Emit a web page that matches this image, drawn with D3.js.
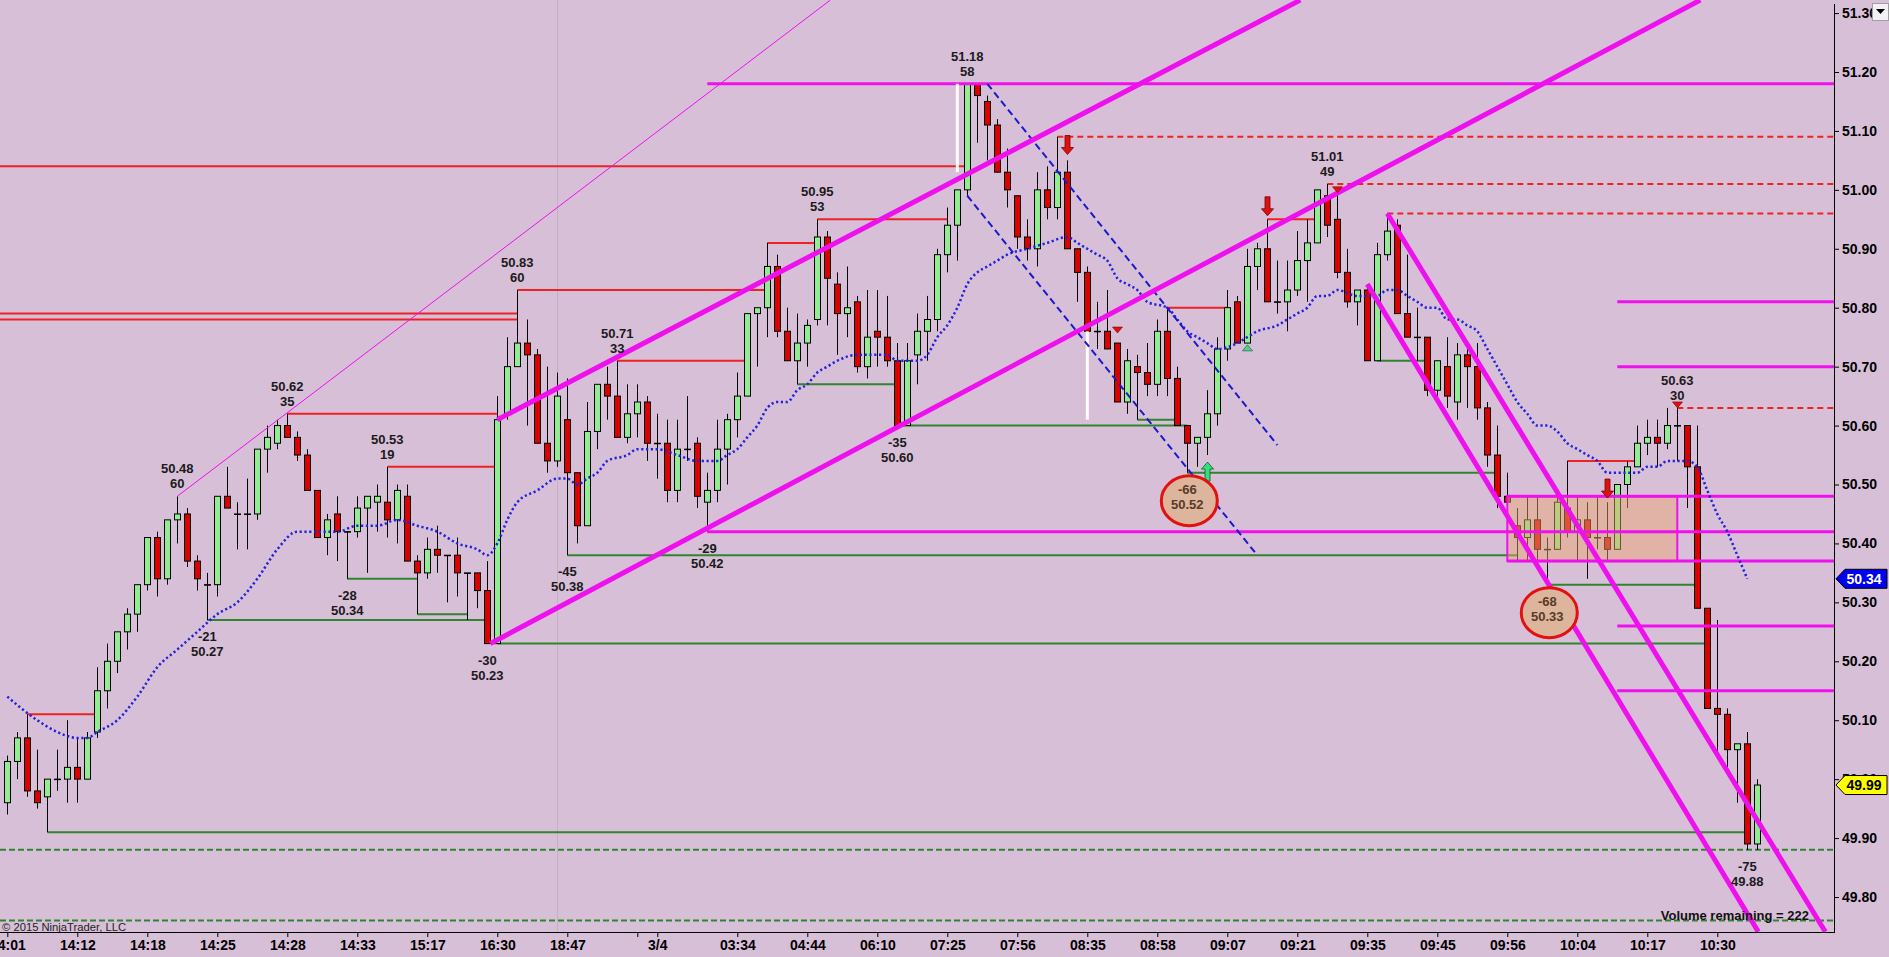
<!DOCTYPE html>
<html>
<head>
<meta charset="utf-8">
<script src="https://cdn.jsdelivr.net/npm/d3@7/dist/d3.min.js"></script>
<style>
    html, body { margin: 0; padding: 0; background: #d8bfd8; }
    svg { display: block; font-family: "Liberation Sans", Arial, sans-serif; }
</style>
</head>
<body>
<svg id="chart" width="1889" height="957"></svg>
<script>
// OHLC per bar (bar index = position in the arrays)
const opens = [
    49.96,50.03,50.07,49.98,49.97,50.00,50.00,50.02,50.00,50.08,
    50.15,50.20,50.25,50.28,50.33,50.41,50.34,50.44,50.45,50.37,
    50.33,50.33,50.48,50.45,50.45,50.45,50.56,50.57,50.60,50.58,
    50.55,50.49,50.41,50.45,50.42,50.42,50.46,50.47,50.47,50.44,
    50.48,50.37,50.35,50.39,50.38,50.38,50.35,50.35,50.32,50.23,
    50.62,50.70,50.74,50.72,50.57,50.54,50.61,50.52,50.43,50.59,
    50.67,50.65,50.58,50.62,50.64,50.57,50.57,50.49,50.56,50.57,
    50.47,50.49,50.56,50.61,50.65,50.79,50.80,50.87,50.76,50.71,
    50.74,50.78,50.92,50.84,50.79,50.81,50.70,50.76,50.75,50.71,
    50.60,50.72,50.76,50.78,50.89,50.94,51.00,51.18,51.15,51.11,
    51.03,50.99,50.92,50.90,51.00,50.97,51.03,50.90,50.86,50.76,
    50.76,50.74,50.64,50.70,50.69,50.67,50.76,50.68,50.60,50.57,
    50.58,50.62,50.73,50.81,50.74,50.87,50.90,50.81,50.81,50.83,
    50.88,50.91,50.99,50.95,50.86,50.81,50.83,50.71,50.89,50.94,
    50.79,50.75,50.75,50.66,50.70,50.64,50.72,50.70,50.63,50.55,
    50.48,50.43,50.41,50.44,50.39,50.39,50.46,50.42,50.44,50.41,
    50.41,50.39,50.50,50.53,50.57,50.58,50.57,50.60,50.60,50.53,
    50.29,50.12,50.11,50.05,50.06,49.89
];
const highs = [
    50.04,50.08,50.11,50.05,50.00,50.05,50.10,50.07,50.08,50.19,
    50.23,50.25,50.29,50.33,50.41,50.42,50.44,50.48,50.46,50.38,
    50.35,50.48,50.53,50.47,50.51,50.56,50.60,50.61,50.62,50.59,
    50.56,50.49,50.45,50.48,50.42,50.48,50.48,50.50,50.53,50.50,
    50.50,50.38,50.41,50.43,50.38,50.41,50.35,50.35,50.37,50.65,
    50.75,50.83,50.78,50.73,50.70,50.69,50.68,50.52,50.64,50.67,
    50.70,50.71,50.67,50.67,50.65,50.62,50.61,50.61,50.65,50.58,
    50.52,50.61,50.62,50.69,50.79,50.80,50.91,50.89,50.80,50.79,
    50.78,50.95,50.93,50.86,50.87,50.82,50.83,50.83,50.82,50.74,
    50.74,50.79,50.82,50.90,50.97,51.00,51.18,51.18,51.16,51.12,
    51.07,50.99,50.95,51.03,51.04,51.09,51.05,50.90,50.87,50.81,
    50.83,50.74,50.73,50.72,50.74,50.78,50.80,50.70,50.60,50.58,
    50.66,50.75,50.83,50.82,50.90,50.91,50.95,50.88,50.88,50.93,
    50.95,51.00,51.01,51.00,50.90,50.83,50.84,50.91,50.96,50.95,
    50.89,50.80,50.75,50.71,50.75,50.74,50.74,50.74,50.64,50.60,
    50.52,50.46,50.48,50.48,50.41,50.48,50.54,50.48,50.47,50.48,
    50.47,50.50,50.54,50.60,50.61,50.61,50.63,50.63,50.60,50.60,
    50.29,50.27,50.12,50.06,50.08,50.00
];
const lows = [
    49.94,50.00,49.97,49.95,49.91,49.98,49.96,49.96,50.00,50.07,
    50.12,50.18,50.22,50.25,50.32,50.31,50.33,50.40,50.36,50.32,
    50.27,50.31,50.46,50.39,50.39,50.44,50.52,50.56,50.58,50.54,
    50.49,50.41,50.38,50.37,50.34,50.41,50.35,50.42,50.41,50.40,
    50.37,50.28,50.34,50.35,50.30,50.31,50.27,50.29,50.23,50.23,
    50.61,50.70,50.60,50.57,50.52,50.53,50.38,50.40,50.43,50.56,
    50.61,50.58,50.57,50.58,50.54,50.51,50.47,50.47,50.54,50.46,
    50.42,50.47,50.50,50.58,50.65,50.70,50.75,50.75,50.71,50.67,
    50.70,50.77,50.77,50.72,50.75,50.69,50.68,50.70,50.70,50.60,
    50.60,50.67,50.71,50.76,50.86,50.88,50.99,51.08,51.05,51.03,
    50.97,50.90,50.88,50.87,50.95,50.95,50.90,50.81,50.76,50.73,
    50.73,50.64,50.62,50.61,50.65,50.65,50.65,50.60,50.52,50.53,
    50.55,50.60,50.71,50.74,50.74,50.83,50.81,50.79,50.76,50.82,
    50.81,50.91,50.92,50.85,50.80,50.77,50.71,50.71,50.88,50.79,
    50.75,50.71,50.65,50.65,50.63,50.61,50.63,50.61,50.53,50.46,
    50.43,50.37,50.37,50.37,50.33,50.39,50.41,50.37,50.34,50.39,
    50.37,50.39,50.46,50.53,50.55,50.53,50.56,50.54,50.46,50.29,
    50.12,50.04,50.02,49.96,49.88,49.88
];
const closes = [
    50.03,50.07,49.98,49.96,50.00,50.00,50.02,50.00,50.07,50.15,
    50.20,50.25,50.28,50.33,50.41,50.34,50.44,50.45,50.37,50.34,
    50.33,50.48,50.46,50.45,50.45,50.56,50.58,50.60,50.58,50.55,
    50.49,50.41,50.44,50.42,50.42,50.46,50.48,50.48,50.44,50.49,
    50.37,50.35,50.39,50.38,50.38,50.35,50.35,50.32,50.23,50.61,
    50.70,50.74,50.72,50.57,50.54,50.65,50.52,50.43,50.59,50.67,
    50.65,50.58,50.62,50.64,50.57,50.57,50.49,50.56,50.56,50.48,
    50.49,50.56,50.61,50.65,50.79,50.80,50.87,50.76,50.71,50.74,
    50.77,50.92,50.85,50.79,50.80,50.70,50.75,50.75,50.71,50.60,
    50.71,50.76,50.78,50.89,50.94,51.00,51.18,51.16,51.11,51.03,
    51.00,50.92,50.90,51.00,50.97,51.03,50.90,50.86,50.76,50.76,
    50.73,50.64,50.71,50.69,50.67,50.76,50.68,50.60,50.57,50.58,
    50.62,50.73,50.80,50.74,50.87,50.90,50.81,50.81,50.83,50.88,
    50.91,51.00,50.94,50.86,50.81,50.83,50.71,50.89,50.93,50.79,
    50.75,50.75,50.66,50.71,50.65,50.72,50.70,50.63,50.55,50.48,
    50.47,50.41,50.44,50.39,50.39,50.47,50.42,50.44,50.41,50.41,
    50.39,50.50,50.53,50.57,50.58,50.57,50.60,50.60,50.53,50.29,
    50.12,50.11,50.05,50.06,49.89,49.99
];

// moving average, read at these bars
const maIdx = [0,3,5,7,8,9,11,13,15,17,19,21,23,25,27,29,31,33,35,37,39,41,43,45,47,48,49,50,51,53,55,56,57,58,59,
    60,62,63,65,67,69,70,71,72,73,74,75,76,77,78,79,80,81,82,83,85,87,88,89,90,91,92,93,94,95,96,97,98,99,
    100,102,104,106,107,108,109,110,111,112,113,114,116,117,118,119,120,121,123,124,125,127,128,129,130,131,132,133,
    135,137,138,139,140,141,142,143,144,145,146,147,148,149,150,151,152,153,154,155,156,157,158,159,160,161,162,163,
    164,165,166,167,168,169,170,171,172,173,174];
const maVal = [50.14,50.10,50.08,50.07,50.07,50.08,50.10,50.14,50.19,50.22,50.25,50.28,50.30,50.34,50.39,50.42,50.42,50.42,50.43,50.43,50.44,50.43,50.42,50.40,50.39,50.38,50.40,50.44,50.47,50.49,50.51,50.51,50.50,50.51,50.52,
    50.54,50.55,50.56,50.56,50.55,50.54,50.54,50.54,50.55,50.56,50.58,50.60,50.63,50.64,50.64,50.66,50.67,50.69,50.70,50.71,50.72,50.72,50.72,50.71,50.71,50.71,50.72,50.75,50.77,50.80,50.84,50.86,50.87,50.88,
    50.89,50.90,50.91,50.92,50.91,50.90,50.89,50.88,50.85,50.84,50.83,50.81,50.80,50.78,50.76,50.75,50.74,50.73,50.74,50.75,50.76,50.77,50.78,50.79,50.80,50.82,50.82,50.83,
    50.82,50.82,50.83,50.83,50.82,50.81,50.80,50.80,50.78,50.78,50.77,50.76,50.73,50.70,50.67,50.64,50.62,50.60,50.60,50.59,50.57,50.56,50.55,50.54,50.52,50.52,50.52,50.52,
    50.53,50.53,50.54,50.54,50.54,50.53,50.49,50.45,50.42,50.38,50.34];

// swing levels: [fromBar, toBar, price]
const redLevels = [[2,9,50.11],[28,49,50.62],[38,49,50.53],[-1,51,50.79],[-1,51,50.78],[-1,96,51.04],
    [51,76,50.83],[61,74,50.71],[76,81,50.91],[81,94,50.95],[116,122,50.80],[126,131,50.95],[156,163,50.54]];
const redOpenLevels = [[105,51.09],[132,51.01],[138,50.96],[167,50.63]];
const greenLevels = [[4,174,49.91],[20,48,50.27],[34,41,50.34],[41,46,50.28],[49,170,50.23],[56,151,50.38],
    [79,89,50.67],[89,118,50.60],[113,117,50.61],[118,149,50.52],[137,142,50.71],[154,169,50.33]];
const greenDashed = [49.88, 49.76];

// drawn tools
const magentaOpen = [[70,51.18],[70,50.42],[150,50.48],[150,50.37],[161,50.81],[161,50.70],[161,50.26],[161,50.15]];
const zoneBox = [150, 167, 50.37, 50.48];
const channelLines = [
    [[49,50.61],[129.3,51.322]],
    [[48.3,50.23],[169.3,51.322]],
    [[138,50.96],[181.8,49.741]],
    [[136,50.84],[175.1,49.741]]
];
const thinLine = [[17,50.48],[82.3,51.322]];
const regLines = [[[98,51.18],[127,50.567]], [[96,50.99],[125,50.38]]];
const whiteBars = [[95,51.18,51.03],[108,50.76,50.61]];

// signals
const downArrows = [[106,51.06],[126,50.956],[160,50.477]];
const upArrows = [[120,50.538]];
const downTriangles = [[111,50.757],[133,50.995],[167,50.63]];
const upTriangles = [[124,50.737]];

// swing labels: [bar, price, line1, line2]
const highLabels = [[17,50.48,"50.48","60"],[28,50.62,"50.62","35"],[38,50.53,"50.53","19"],[51,50.83,"50.83","60"],
    [61,50.71,"50.71","33"],[81,50.95,"50.95","53"],[96,51.18,"51.18","58"],[132,51.01,"51.01","49"],[167,50.63,"50.63","30"]];
const lowLabels = [[20,50.27,"-21","50.27"],[34,50.34,"-28","50.34"],[48,50.23,"-30","50.23"],[56,50.38,"-45","50.38"],
    [70,50.42,"-29","50.42"],[89,50.60,"-35","50.60"],[118,50.52,"-66","50.52"],[154,50.33,"-68","50.33"],[174,49.88,"-75","49.88"]];
const circled = [118, 154];

const timeTicks = [0,7,14,21,28,35,42,49,56,63,65,73,80,87,94,101,108,115,122,129,136,143,150,157,164,171];
const timeLabels = ["14:01","14:12","14:18","14:25","14:28","14:33","15:17","16:30","18:47","","3/4","03:34","04:44","06:10",
    "07:25","07:56","08:35","08:58","09:07","09:21","09:35","09:45","09:56","10:04","10:17","10:30"];
const priceTicks = [49.8,49.9,50.0,50.1,50.2,50.3,50.4,50.5,50.6,50.7,50.8,50.9,51.0,51.1,51.2,51.3];
const tagPrices = [50.34, 49.99];
const sessionBreak = 55;

const plotRight = 1834, plotBottom = 932;

let svg = d3.select("#chart");
let x = d3.scaleLinear().domain([0, 175]).range([7.3, 1757.3]);
let y = d3.scaleLinear().domain([49.8, 51.2]).range([897, 72]);

svg.append("rect").attr("width", 1889).attr("height", 957).attr("fill", "#d8bfd8");

svg.append("clipPath").attr("id", "clip")
    .append("rect").attr("x", 0).attr("y", 0).attr("width", plotRight).attr("height", plotBottom);

let plot = svg.append("g").attr("clip-path", "url(#clip)");

const RED = "#ee2222", GREEN = "#2f852f", MAG = "#ee11ee";

// session separator
plot.append("line")
    .attr("x1", Math.round(x(sessionBreak)) + 0.5).attr("x2", Math.round(x(sessionBreak)) + 0.5)
    .attr("y1", 0).attr("y2", plotBottom)
    .attr("stroke", "#c4b0c4").attr("stroke-width", 1);

// dashed green lines across
plot.selectAll("line.gdash").data(greenDashed).enter().append("line")
    .attr("class", "gdash")
    .attr("x1", 0).attr("x2", plotRight)
    .attr("y1", function(d) { return y(d); }).attr("y2", function(d) { return y(d); })
    .attr("stroke", GREEN).attr("stroke-width", 2).attr("stroke-dasharray", "6,3");

// swing high / low levels
plot.selectAll("line.red").data(redLevels).enter().append("line")
    .attr("class", "red")
    .attr("x1", function(d) { return x(d[0]); }).attr("x2", function(d) { return x(d[1]); })
    .attr("y1", function(d) { return y(d[2]); }).attr("y2", function(d) { return y(d[2]); })
    .attr("stroke", RED).attr("stroke-width", 2);

plot.selectAll("line.redopen").data(redOpenLevels).enter().append("line")
    .attr("class", "redopen")
    .attr("x1", function(d) { return x(d[0]); }).attr("x2", plotRight)
    .attr("y1", function(d) { return y(d[1]); }).attr("y2", function(d) { return y(d[1]); })
    .attr("stroke", RED).attr("stroke-width", 2).attr("stroke-dasharray", "6,4");

plot.selectAll("line.green").data(greenLevels).enter().append("line")
    .attr("class", "green")
    .attr("x1", function(d) { return x(d[0]); }).attr("x2", function(d) { return x(d[1]); })
    .attr("y1", function(d) { return y(d[2]); }).attr("y2", function(d) { return y(d[2]); })
    .attr("stroke", GREEN).attr("stroke-width", 2);

// candles
let bars = d3.range(opens.length);
let candle = plot.selectAll("g.candle").data(bars).enter().append("g").attr("class", "candle");

candle.append("line")
    .attr("x1", function(i) { return Math.round(x(i)) + 0.5; })
    .attr("x2", function(i) { return Math.round(x(i)) + 0.5; })
    .attr("y1", function(i) { return y(highs[i]); })
    .attr("y2", function(i) { return y(lows[i]); })
    .attr("stroke", "#000").attr("stroke-width", 1);

candle.append("rect")
    .attr("x", function(i) { return Math.round(x(i)) - 2.5; })
    .attr("width", 6)
    .attr("y", function(i) { return y(Math.max(opens[i], closes[i])); })
    .attr("height", function(i) { return Math.max(0.5, Math.abs(y(opens[i]) - y(closes[i]))); })
    .attr("fill", function(i) {
        if (closes[i] > opens[i]) return "#90ee90";
        if (closes[i] < opens[i]) return "#dd0000";
        return "#000";
    })
    .attr("stroke", "#000").attr("stroke-width", 1);

// zone box over the candles
plot.append("rect")
    .attr("x", x(zoneBox[0])).attr("width", x(zoneBox[1]) - x(zoneBox[0]))
    .attr("y", y(zoneBox[3])).attr("height", y(zoneBox[2]) - y(zoneBox[3]))
    .attr("fill", "rgba(232,168,110,0.48)")
    .attr("stroke", MAG).attr("stroke-width", 2);

plot.selectAll("line.mag").data(magentaOpen).enter().append("line")
    .attr("class", "mag")
    .attr("x1", function(d) { return x(d[0]); }).attr("x2", plotRight)
    .attr("y1", function(d) { return y(d[1]); }).attr("y2", function(d) { return y(d[1]); })
    .attr("stroke", MAG).attr("stroke-width", 3);

// white marks
plot.selectAll("line.white").data(whiteBars).enter().append("line")
    .attr("class", "white")
    .attr("x1", function(d) { return x(d[0]); }).attr("x2", function(d) { return x(d[0]); })
    .attr("y1", function(d) { return y(d[1]); }).attr("y2", function(d) { return y(d[2]); })
    .attr("stroke", "#ffffff").attr("stroke-width", 3);

let seg = d3.line()
    .x(function(d) { return x(d[0]); })
    .y(function(d) { return y(d[1]); });

// moving average (dotted)
let maPts = maIdx.map(function(i, k) { return [i, maVal[k]]; });
plot.append("path")
    .attr("d", d3.line().x(function(d) { return x(d[0]); }).y(function(d) { return y(d[1]); }).curve(d3.curveMonotoneX)(maPts))
    .attr("fill", "none").attr("stroke", "#2222d8").attr("stroke-width", 2.5)
    .attr("stroke-dasharray", "2.2,2.6");

// regression channel
plot.selectAll("path.reg").data(regLines).enter().append("path")
    .attr("class", "reg")
    .attr("d", seg)
    .attr("fill", "none").attr("stroke", "#1a1acc").attr("stroke-width", 2).attr("stroke-dasharray", "7,4");

plot.append("path")
    .attr("d", seg(thinLine))
    .attr("fill", "none").attr("stroke", MAG).attr("stroke-width", 1);

plot.selectAll("path.chan").data(channelLines).enter().append("path")
    .attr("class", "chan")
    .attr("d", seg)
    .attr("fill", "none").attr("stroke", MAG).attr("stroke-width", 5);

// arrows and triangles
plot.selectAll("path.darrow").data(downArrows).enter().append("path")
    .attr("class", "darrow")
    .attr("d", function(d) {
        let cx = Math.round(x(d[0])) + 0.5, t = y(d[1]);
        return "M" + (cx - 2.5) + "," + (t - 19) + "h5v12h3.5l-6,7l-6,-7h3.5z";
    })
    .attr("fill", "#dd1111").attr("stroke", "#700").attr("stroke-width", 0.8);

plot.selectAll("path.uarrow").data(upArrows).enter().append("path")
    .attr("class", "uarrow")
    .attr("d", function(d) {
        let cx = Math.round(x(d[0])) + 0.5, t = y(d[1]);
        return "M" + (cx - 2.5) + "," + (t + 19) + "h5v-12h3.5l-6,-7l-6,7h3.5z";
    })
    .attr("fill", "#33e07a").attr("stroke", "#0a5a2a").attr("stroke-width", 0.8);

plot.selectAll("path.dtri").data(downTriangles).enter().append("path")
    .attr("class", "dtri")
    .attr("d", function(d) {
        let cx = Math.round(x(d[0])) + 0.5, t = y(d[1]);
        return "M" + (cx - 5) + "," + (t - 6) + "h10l-5,6z";
    })
    .attr("fill", "#dd1111").attr("stroke", "#800").attr("stroke-width", 0.6);

plot.selectAll("path.utri").data(upTriangles).enter().append("path")
    .attr("class", "utri")
    .attr("d", function(d) {
        let cx = Math.round(x(d[0])) + 0.5, t = y(d[1]);
        return "M" + (cx - 5) + "," + (t + 6) + "h10l-5,-6z";
    })
    .attr("fill", "#44d888").attr("stroke", "#0a5a2a").attr("stroke-width", 0.6);

// circled swing lows
let circledLows = lowLabels.filter(function(d) { return circled.indexOf(d[0]) >= 0; });
plot.selectAll("ellipse.ring").data(circledLows).enter().append("ellipse")
    .attr("class", "ring")
    .attr("cx", function(d) { return x(d[0]) + 2; })
    .attr("cy", function(d) { return y(d[1]) + 28; })
    .attr("rx", 28).attr("ry", 25)
    .attr("fill", "#dcb59c").attr("stroke", "#e31010").attr("stroke-width", 3);

// swing labels
let hl = plot.selectAll("g.hl").data(highLabels).enter().append("g").attr("class", "hl");
hl.append("text")
    .attr("x", function(d) { return x(d[0]); }).attr("y", function(d) { return y(d[1]) - 23; })
    .text(function(d) { return d[2]; });
hl.append("text")
    .attr("x", function(d) { return x(d[0]); }).attr("y", function(d) { return y(d[1]) - 8; })
    .text(function(d) { return d[3]; });

let ll = plot.selectAll("g.ll").data(lowLabels).enter().append("g").attr("class", "ll");
ll.append("text")
    .attr("x", function(d) { return x(d[0]); }).attr("y", function(d) { return y(d[1]) + 21; })
    .text(function(d) { return d[2]; });
ll.append("text")
    .attr("x", function(d) { return x(d[0]); }).attr("y", function(d) { return y(d[1]) + 36; })
    .text(function(d) { return d[3]; });

plot.selectAll("g.hl text, g.ll text")
    .attr("text-anchor", "middle")
    .attr("font-size", 13).attr("font-weight", "bold")
    .attr("fill", function() {
        return "#1a1a1a";
    });
plot.selectAll("g.ll text").filter(function(d) { return circled.indexOf(d[0]) >= 0; })
    .attr("fill", "#5a3a28");

// footer texts
svg.append("text")
    .attr("x", 2).attr("y", 931)
    .attr("font-size", 11).attr("fill", "#222")
    .attr("textLength", 124).attr("lengthAdjust", "spacingAndGlyphs")
    .text("© 2015 NinjaTrader, LLC");

svg.append("text")
    .attr("x", 1809).attr("y", 920).attr("text-anchor", "end")
    .attr("font-size", 13).attr("font-weight", "bold").attr("fill", "#111")
    .text("Volume remaining = 222");

// axes
let yAxis = d3.axisRight(y).tickValues(priceTicks).tickFormat(d3.format(".2f")).tickSize(5).tickPadding(3);
let yg = svg.append("g").attr("transform", "translate(" + plotRight + ",0)").call(yAxis);
yg.select(".domain").remove();
yg.selectAll("text").attr("font-size", 14).attr("font-weight", "bold").attr("fill", "#000")
    .attr("font-family", "Liberation Sans, Arial, sans-serif");

let xAxis = d3.axisBottom(x).tickValues(timeTicks)
    .tickFormat(function(d, i) { return timeLabels[i]; })
    .tickSize(5).tickPadding(3);
let xg = svg.append("g").attr("transform", "translate(0," + plotBottom + ")").call(xAxis);
xg.select(".domain").remove();
xg.selectAll("text").attr("font-size", 14).attr("font-weight", "bold").attr("fill", "#000")
    .attr("font-family", "Liberation Sans, Arial, sans-serif");

svg.append("line").attr("x1", plotRight + 0.5).attr("x2", plotRight + 0.5).attr("y1", 4).attr("y2", plotBottom + 1)
    .attr("stroke", "#000");
svg.append("line").attr("x1", 0).attr("x2", plotRight + 1).attr("y1", plotBottom + 0.5).attr("y2", plotBottom + 0.5)
    .attr("stroke", "#000");

// price tags
let tagFill = ["#0000ee", "#ffff00"], tagText = ["#ffffff", "#000000"];
let tags = svg.selectAll("g.tag").data(tagPrices).enter().append("g").attr("class", "tag");
tags.append("path")
    .attr("d", function(d) {
        let c = y(d);
        return "M" + (plotRight + 2) + "," + c + "L" + (plotRight + 11) + "," + (c - 9.5) + "H1887V" + (c + 9.5) + "H" + (plotRight + 11) + "Z";
    })
    .attr("fill", function(d, i) { return tagFill[i]; })
    .attr("stroke", "#000").attr("stroke-width", 1);
tags.append("text")
    .attr("x", 1864).attr("y", function(d) { return y(d) + 5; })
    .attr("text-anchor", "middle").attr("font-size", 14).attr("font-weight", "bold")
    .attr("fill", function(d, i) { return tagText[i]; })
    .text(function(d) { return d.toFixed(2); });

// drop-down button in the corner
svg.append("rect").attr("x", 1872.5).attr("y", 3.5).attr("width", 16).attr("height", 17)
    .attr("fill", "#f2f2f2").attr("stroke", "#a0a0a0");
svg.append("path").attr("d", "M1876,9h9l-4.5,5z").attr("fill", "#000");
</script>
</body>
</html>
